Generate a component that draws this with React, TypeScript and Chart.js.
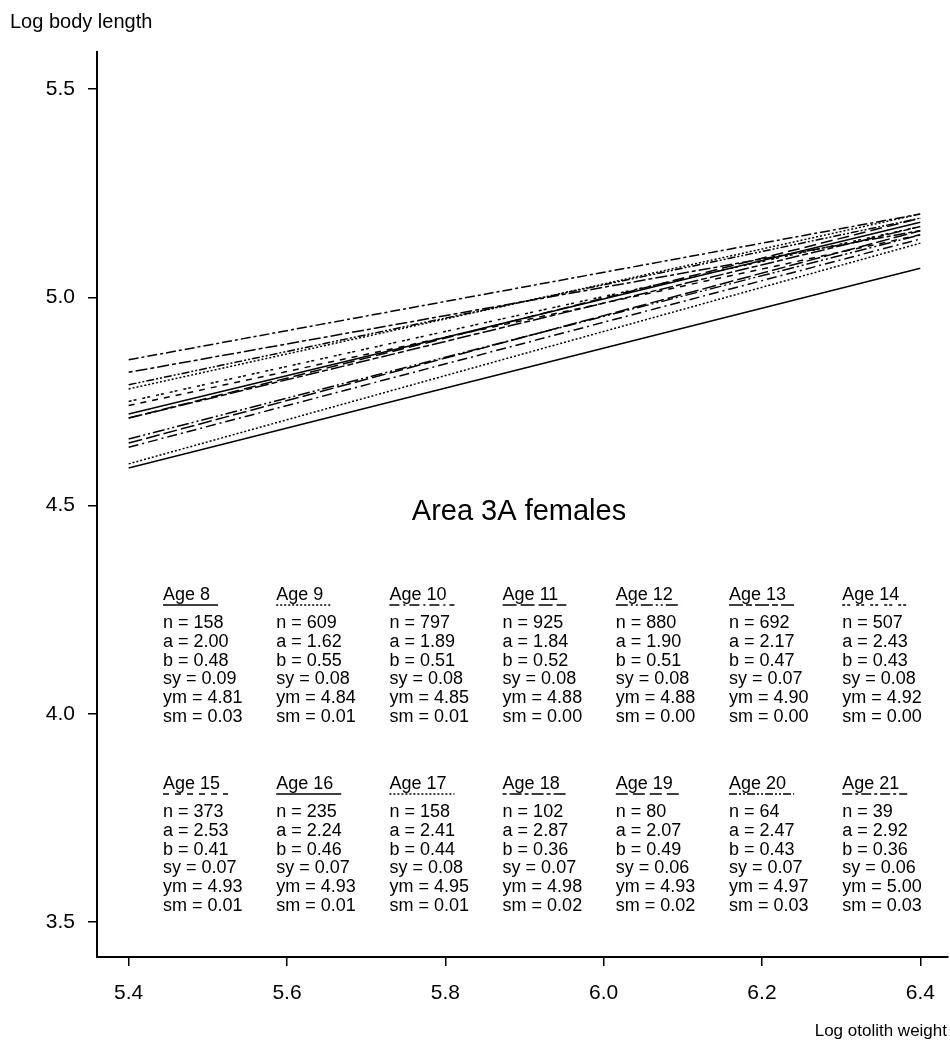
import React, { useEffect, useRef } from "react";
import { Chart, registerables } from "chart.js";

Chart.register(...registerables);

// ---- Data ----
const ages = [8, 9, 10, 11, 12, 13, 14, 15, 16, 17, 18, 19, 20, 21];
const nValues = [158, 609, 797, 925, 880, 692, 507, 373, 235, 158, 102, 80, 64, 39];
const aValues = [2.0, 1.62, 1.89, 1.84, 1.9, 2.17, 2.43, 2.53, 2.24, 2.41, 2.87, 2.07, 2.47, 2.92];
const bValues = [0.48, 0.55, 0.51, 0.52, 0.51, 0.47, 0.43, 0.41, 0.46, 0.44, 0.36, 0.49, 0.43, 0.36];
const syValues = [0.09, 0.08, 0.08, 0.08, 0.08, 0.07, 0.08, 0.07, 0.07, 0.08, 0.07, 0.06, 0.07, 0.06];
const ymValues = [4.81, 4.84, 4.85, 4.88, 4.88, 4.9, 4.92, 4.93, 4.93, 4.95, 4.98, 4.93, 4.97, 5.0];
const smValues = [0.03, 0.01, 0.01, 0.0, 0.0, 0.0, 0.0, 0.01, 0.01, 0.01, 0.02, 0.02, 0.03, 0.03];

// fitted line end points (log otolith weight 5.4 and 6.4)
const lineStartX = 5.4;
const lineEndX = 6.4;
const lengthAtStart = [4.59, 4.6, 4.64, 4.65, 4.66, 4.71, 4.75, 4.74, 4.72, 4.78, 4.82, 4.71, 4.79, 4.85];
const lengthAtEnd = [5.07, 5.13, 5.14, 5.16, 5.15, 5.17, 5.17, 5.15, 5.18, 5.2, 5.16, 5.19, 5.19, 5.2];

const xTicks = [5.4, 5.6, 5.8, 6.0, 6.2, 6.4];
const yTicks = [3.5, 4.0, 4.5, 5.0, 5.5];

const chartTitle = "Area 3A females";
const yAxisTitle = "Log body length";
const xAxisTitle = "Log otolith weight";

// line styles per age
const dashPatterns: number[][] = [
  [],
  [2, 2],
  [10, 4, 2, 4],
  [14, 4],
  [12, 3, 2, 3, 2, 3],
  [14, 3, 6, 3],
  [3, 2, 3, 6],
  [6, 6],
  [],
  [2, 2],
  [4, 3, 12, 3],
  [12, 5],
  [8, 2, 2, 2, 2, 2],
  [10, 3, 3, 3],
];

const FONT = '"Liberation Sans", Arial, Helvetica, sans-serif';

const textPlugin = {
  id: "textPlugin",
  afterDraw(chart: any) {
    const ctx: CanvasRenderingContext2D = chart.ctx;
    ctx.save();
    ctx.fillStyle = "#000";
    ctx.strokeStyle = "#000";

    // axis titles
    ctx.textBaseline = "middle";
    ctx.font = `20px ${FONT}`;
    ctx.textAlign = "left";
    ctx.fillText(yAxisTitle, 10, 22);
    ctx.font = `17px ${FONT}`;
    ctx.textAlign = "right";
    ctx.fillText(xAxisTitle, 947, 1031);

    // chart title
    ctx.font = `29px ${FONT}`;
    ctx.textAlign = "center";
    ctx.fillText(chartTitle, 519, 512);

    // stats blocks
    const colX0 = 163;
    const colDX = 113.2;
    const rowY = [595, 784];
    const lineH = 18.8;
    ctx.font = `18px ${FONT}`;
    ctx.textAlign = "left";
    ages.forEach((age, i) => {
      const row = Math.floor(i / 7);
      const col = i % 7;
      const x = colX0 + col * colDX;
      const y = rowY[row];
      const label = `Age ${age}`;
      ctx.fillText(label, x, y);
      const w = ctx.measureText(label).width;
      ctx.beginPath();
      ctx.lineWidth = 1.5;
      ctx.setLineDash(dashPatterns[i]);
      ctx.moveTo(x, y + 10);
      ctx.lineTo(x + w + 8, y + 10);
      ctx.stroke();
      ctx.setLineDash([]);
      const lines = [
        `n = ${nValues[i]}`,
        `a = ${aValues[i].toFixed(2)}`,
        `b = ${bValues[i].toFixed(2)}`,
        `sy = ${syValues[i].toFixed(2)}`,
        `ym = ${ymValues[i].toFixed(2)}`,
        `sm = ${smValues[i].toFixed(2)}`,
      ];
      lines.forEach((t, k) => {
        ctx.fillText(t, x, y + 28 + k * lineH);
      });
    });
    ctx.restore();
  },
};

export default function App() {
  const canvasRef = useRef<HTMLCanvasElement | null>(null);

  useEffect(() => {
    document.body.style.margin = "0";
    const canvas = canvasRef.current;
    if (!canvas) return;
    const datasets = ages.map((age, i) => ({
      label: `Age ${age}`,
      data: [
        { x: lineStartX, y: lengthAtStart[i] },
        { x: lineEndX, y: lengthAtEnd[i] },
      ],
      borderColor: "#000",
      borderWidth: 1.5,
      borderDash: dashPatterns[i],
      pointRadius: 0,
      fill: false,
    }));

    const chart = new Chart(canvas, {
      type: "line",
      data: { datasets },
      options: {
        animation: false,
        responsive: false,
        maintainAspectRatio: false,
        layout: { padding: { top: 52, right: 2, left: 0, bottom: 0 } },
        plugins: {
          legend: { display: false },
          tooltip: { enabled: false },
        },
        scales: {
          x: {
            type: "linear",
            min: 5.36,
            max: 6.435,
            afterBuildTicks: (scale: any) => {
              scale.ticks = xTicks.map((v) => ({ value: v }));
            },
            afterFit: (scale: any) => {
              scale.height = 93;
            },
            ticks: {
              color: "#000",
              font: { size: 21, family: FONT },
              padding: 15,
              maxRotation: 0,
              callback: (v: any) => Number(v).toFixed(1),
            },
            grid: {
              drawOnChartArea: false,
              drawTicks: true,
              tickLength: 9,
              color: "#000",
              lineWidth: 1.5,
            },
            border: { display: true, color: "#000", width: 2 },
          },
          y: {
            type: "linear",
            min: 3.416,
            max: 5.589,
            afterBuildTicks: (scale: any) => {
              scale.ticks = yTicks.map((v) => ({ value: v }));
            },
            afterFit: (scale: any) => {
              scale.width = 97;
            },
            ticks: {
              color: "#000",
              font: { size: 21, family: FONT },
              padding: 13,
              callback: (v: any) => Number(v).toFixed(1),
            },
            grid: {
              drawOnChartArea: false,
              drawTicks: true,
              tickLength: 9,
              color: "#000",
              lineWidth: 1.5,
            },
            border: { display: true, color: "#000", width: 2 },
          },
        },
      },
      plugins: [textPlugin],
    });
    return () => chart.destroy();
  }, []);

  return (
    <div style={{ width: 950, height: 1050, position: "relative", background: "#fff" }}>
      <canvas ref={canvasRef} width={950} height={1050} style={{ display: "block" }} />
    </div>
  );
}
